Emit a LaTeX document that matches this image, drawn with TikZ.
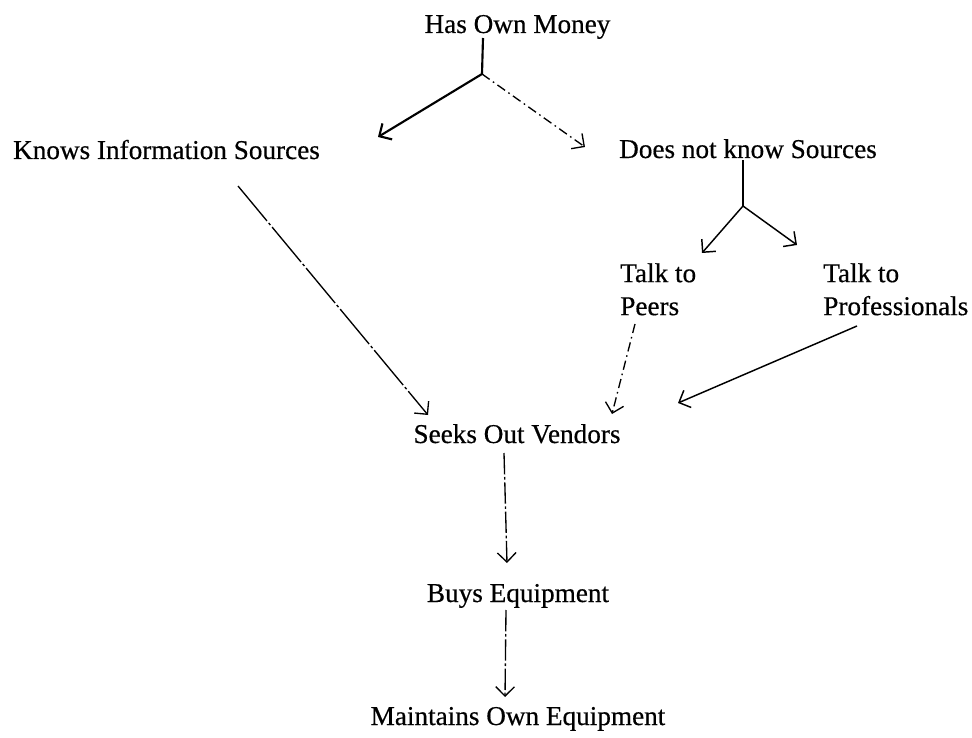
\documentclass[tikz,border=0pt]{standalone}
\usepackage{fontspec}
\setmainfont[FakeBold=0.5]{Liberation Serif}
\usetikzlibrary{arrows.meta,calc}

\begin{document}
\begin{tikzpicture}[
  x=0.75pt, y=-0.75pt,
  label/.style={inner sep=0pt, font=\fontsize{20.4}{24.75}\selectfont},
  pair/.style={label, align=left, anchor=north west},
  tip/.style={-{Straight Barb[length=7pt,width=14pt]}},
  strong/.style={line width=1.6pt},
  plain/.style={line width=1.1pt},
  dotdash/.style={line width=1pt, dash pattern=on 7pt off 3pt on 1.2pt off 3pt},
  longdash/.style={line width=1pt, dash pattern=on 16pt off 2pt on 2pt off 2pt},
  broken/.style={line width=1pt, dash pattern=on 34pt off 2pt on 2pt off 2pt},
]
\useasboundingbox (0,0) rectangle (972,738);

% nodes
\node[label, anchor=base] (money)     at (517.5,33)  {Has Own Money};
\node[label, anchor=base] (knows)     at (166.5,159) {Knows Information Sources};
\node[label, anchor=base] (notknow)   at (748,158)   {Does not know Sources};
\node[pair]               (peers)     at (620,263)   {Talk to\\Peers};
\node[pair]               (pros)      at (823,263)   {Talk to\\Professionals};
\node[label, anchor=base] (seeks)     at (517,443)   {Seeks Out Vendors};
\node[label, anchor=base] (buys)      at (518,602)   {Buys Equipment};
\node[label, anchor=base] (maintains) at (518,725)   {Maintains Own Equipment};

% branch points
\coordinate (j1) at (482,74);
\coordinate (j2) at (743,206);

% first split
\draw[strong] ($(money.base)+(-34.5,5)$) -- (j1);
\draw[strong, tip] (j1) -- ($(knows.base)+(211.5,-22)$);
\draw[dotdash, tip] (j1) -- ($(notknow.base)+(-163,-11)$);

% second split
\draw[plain] ($(notknow.base)+(-5,2)$) -- (j2);
\draw[plain, tip] (j2) -- ($(peers.north west)+(82,-10)$);
\draw[plain, tip] (j2) -- ($(pros.north west)+(-26,-18)$);

% into vendors
\draw[broken, tip] ($(knows.base)+(71.5,27)$) -- ($(seeks.base)+(-89,-28)$);
\draw[dotdash, tip] ($(peers.north west)+(15,61)$) -- ($(seeks.base)+(95,-29)$);
\draw[plain, tip] ($(pros.north west)+(34,63)$) -- ($(seeks.base)+(161,-40)$);

% down the chain
\draw[longdash, tip] ($(seeks.base)+(-13,10)$) -- ($(buys.base)+(-11,-39)$);
\draw[longdash, tip] ($(buys.base)+(-12,8)$) -- ($(maintains.base)+(-13,-28)$);
\end{tikzpicture}
\end{document}
